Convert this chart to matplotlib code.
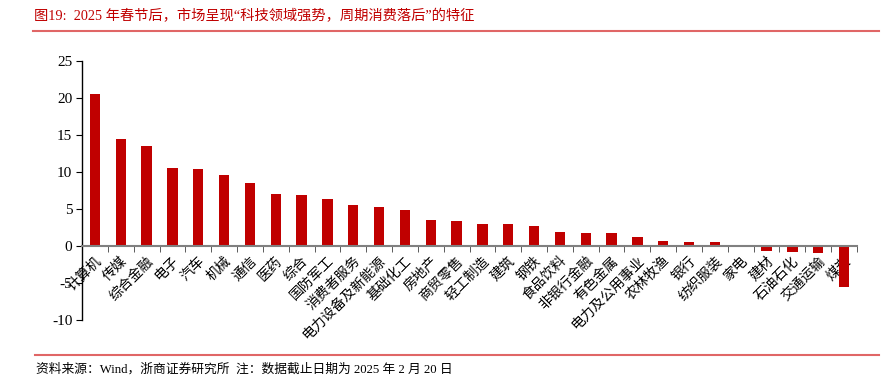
import numpy as np
import matplotlib.pyplot as plt
from matplotlib.lines import Line2D

plt.rcParams['font.family'] = ['Liberation Serif', 'Noto Sans CJK SC', 'DejaVu Sans']
plt.rcParams['axes.unicode_minus'] = False

categories = ['计算机', '传媒', '综合金融', '电子', '汽车', '机械', '通信', '医药', '综合',
              '国防军工', '消费者服务', '电力设备及新能源', '基础化工', '房地产', '商贸零售',
              '轻工制造', '建筑', '钢铁', '食品饮料', '非银行金融', '有色金属', '电力及公用事业',
              '农林牧渔', '银行', '纺织服装', '家电', '建材', '石油石化', '交通运输', '煤炭']
values = [20.6, 14.4, 13.5, 10.5, 10.45, 9.6, 8.55, 7.0, 6.95,
          6.4, 5.6, 5.3, 4.9, 3.45, 3.4,
          3.0, 3.0, 2.75, 1.95, 1.8, 1.7, 1.2,
          0.7, 0.55, 0.55, 0.15, -0.7, -0.85, -1.0, -5.5]
yticks = [-10, -5, 0, 5, 10, 15, 20, 25]

W, H = 896, 379
fig = plt.figure(figsize=(W / 100, H / 100), dpi=100)
ax = fig.add_axes([82 / W, (H - 320) / H, (857 - 82) / W, (320 - 61) / H])

x = np.arange(len(categories))
ax.bar(x, values, width=0.4, color='#C00000', zorder=2)

ax.set_xlim(-0.5, len(categories) - 0.5)
ax.set_ylim(-10, 25)
ax.set_yticks(yticks)
ax.tick_params(axis='y', direction='out', length=4, labelsize=11, color='black', pad=3)

# x axis sits on zero, ticks between categories
ax.spines['bottom'].set_position(('data', 0))
ax.spines['bottom'].set_color('#808080')
ax.spines['bottom'].set_linewidth(1.5)
ax.spines['top'].set_visible(False)
ax.spines['right'].set_visible(False)
ax.spines['left'].set_linewidth(1.0)
ax.set_xticks(x)
ax.set_xticklabels(categories, rotation=45, ha='right', va='top', rotation_mode='anchor',
                   fontsize=10)
ax.set_xticks(np.arange(len(categories) + 1) - 0.5, minor=True)
ax.tick_params(axis='x', which='major', length=0, pad=6)
ax.tick_params(axis='x', which='minor', length=4, color='#404040', direction='out')

# header / footer
fig.text(34 / W, 1 - 16 / H, '图19:  2025 年春节后，市场呈现“科技领域强势，周期消费落后”的特征',
         color='#C00000', fontsize=10.3, va='center', ha='left')
fig.add_artist(Line2D([33 / W, 879 / W], [1 - 30.5 / H] * 2, color='#E06666', lw=1.5))
fig.add_artist(Line2D([35 / W, 879 / W], [1 - 354.5 / H] * 2, color='#E06666', lw=1.5))
fig.text(36 / W, 1 - 369 / H, '资料来源：Wind，浙商证券研究所  注：数据截止日期为 2025 年 2 月 20 日',
         color='black', fontsize=9.2, va='center', ha='left')

plt.savefig('out.png', dpi=100)
